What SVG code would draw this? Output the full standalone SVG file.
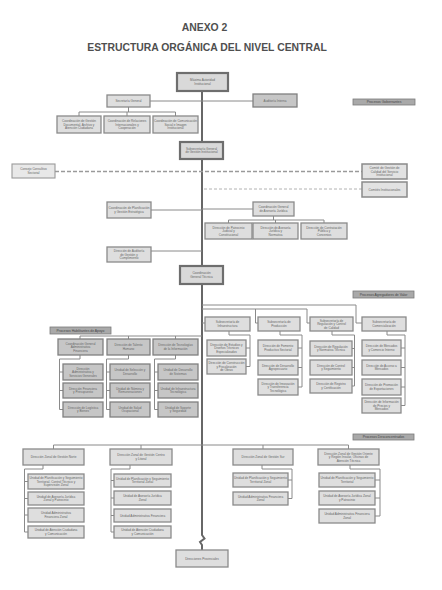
<svg xmlns="http://www.w3.org/2000/svg" width="442" height="590" viewBox="0 0 442 590">
<style>
.bg{fill:#ffffff}
.title{font-family:"Liberation Sans",Arial,sans-serif;font-weight:bold;font-size:10.4px;fill:#4f4f4f;text-anchor:middle}
.b{fill:#dedede;stroke:#8a8a8a;stroke-width:1.3}
.d{fill:#c6c6c6;stroke:#808080;stroke-width:1.3}
.m{fill:#d9d9d9;stroke:#6e6e6e;stroke-width:2.2}
.dl{fill:#e8e8e8;stroke:#9a9a9a;stroke-width:1.1}
.dr{fill:#e2e2e2;stroke:#8a8a8a;stroke-width:1.5}
.lb{fill:#a9a9a9;stroke:#7a7a7a;stroke-width:0.8}
.t{font-family:"Liberation Sans",Arial,sans-serif;font-size:3.1px;fill:#666;text-anchor:middle}
.lt{font-family:"Liberation Sans",Arial,sans-serif;font-size:3.4px;fill:#444;text-anchor:middle}
.c{fill:none;stroke:#8a8a8a;stroke-width:1}
.tr{fill:none;stroke:#676767;stroke-width:2}
.ds1{fill:none;stroke:#9a9a9a;stroke-width:1.6;stroke-dasharray:4 2}
.ds2{fill:none;stroke:#a0a0a0;stroke-width:0.8;stroke-dasharray:3 2}
</style>
<rect class="bg" x="0" y="0" width="442" height="590"/>
<text class="title" x="204.5" y="31">ANEXO 2</text>
<text class="title" x="207" y="51">ESTRUCTURA ORGÁNICA DEL NIVEL CENTRAL</text>

<g id="connectors">
<path class="tr" d="M202,91 V535 L204.5,538.5 L200,542 L202,545 V550"/>
<path class="c" d="M150,101 H253"/>
<path class="c" d="M128.5,107 V112 M79,116 V112 H175.5 V116 M127,112 V116"/>
<path class="ds1" d="M55,171.5 H362"/>
<path class="ds2" d="M204,189 H362"/>
<path class="c" d="M151,210 H202 M202,209 H253"/>
<path class="c" d="M273.5,216 V220 M228.5,223 V220 H324 V223 M275.5,220 V223"/>
<path class="c" d="M151,251 H202"/>
<path class="c" d="M202,305 H356 V323 H362 M202,309 H307 V323 H310 M255.5,309 V323 H258 M202,323 H205"/>
<path class="c" d="M229,331 V335 H250 V366.5 M246,348 H250 M246,366.5 H250"/>
<path class="c" d="M280,331 V335 H302 V387 M298,348 H302 M298,367.5 H302 M298,387 H302"/>
<path class="c" d="M332,331 V335 H354.5 V386 M352,348.5 H354.5 M352,367.5 H354.5 M352,386 H354.5"/>
<path class="c" d="M387,331 V335 H405 V405.5 M401,348 H405 M401,367.5 H405 M401,387 H405 M401,405.5 H405"/>
<path class="c" d="M80,336 H202 M80,336 V339 M128.5,336 V339 M175.5,336 V339"/>
<path class="c" d="M80,355 V359 H59.5 V409.5 M59.5,372 H63 M59.5,390.5 H63 M59.5,409.5 H63"/>
<path class="c" d="M128.5,355 V359 H106.5 V409.5 M106.5,372 H110 M106.5,390.5 H110 M106.5,409.5 H110"/>
<path class="c" d="M175.5,355 V359 H154.5 V409.5 M154.5,372 H158 M154.5,390.5 H158 M154.5,409.5 H158"/>
<path class="c" d="M53.5,445 H348.5 M53.5,445 V449 M141,445 V449 M263,445 V449 M348.5,445 V449"/>
<path class="c" d="M43,465 V469 H24.5 V532 M24.5,481.5 H28 M24.5,498.5 H28 M24.5,515 H28 M24.5,532 H28"/>
<path class="c" d="M130,465 V469 H111 V532 M111,480.5 H114 M111,498 H114 M111,515.5 H114 M111,532 H114"/>
<path class="c" d="M262,465 V469 H292 V498.5 M288,480 H292 M288,498.5 H292"/>
<path class="c" d="M350,465 V469 H380 V516 M375,480 H380 M375,498 H380 M375,516 H380"/>
</g>

<g id="n-top"><rect class="m" x="177" y="73" width="51" height="18"/><text class="t"><tspan x="202.5" y="81.3">Máxima Autoridad</tspan><tspan x="202.5" y="84.9">Institucional</tspan></text></g>
<g id="n-secgen"><rect class="b" x="107" y="95" width="43" height="12"/><text class="t" x="128.5" y="102.1">Secretaría General</text></g>
<g id="n-audit"><rect class="d" x="253" y="94" width="44" height="13"/><text class="t" x="275" y="101.6">Auditoría Interna</text></g>
<g id="n-g1"><rect class="b" x="57" y="116" width="44" height="17"/><text class="t"><tspan x="79" y="122">Coordinación de Gestión</tspan><tspan x="79" y="125.6">Documental, Archivo y</tspan><tspan x="79" y="129.2">Atención Ciudadana</tspan></text></g>
<g id="n-g2"><rect class="b" x="104" y="116" width="46" height="17"/><text class="t"><tspan x="127" y="122">Coordinación de Relaciones</tspan><tspan x="127" y="125.6">Internacionales y</tspan><tspan x="127" y="129.2">Cooperación</tspan></text></g>
<g id="n-g3"><rect class="b" x="153" y="116" width="45" height="17"/><text class="t"><tspan x="175.5" y="122">Coordinación de Comunicación</tspan><tspan x="175.5" y="125.6">Social e Imagen</tspan><tspan x="175.5" y="129.2">Institucional</tspan></text></g>
<g id="lab-gob"><rect class="lb" x="353" y="99" width="62" height="6"/><text class="lt" x="384" y="103.2">Procesos Gobernantes</text></g>

<g id="n-sub"><rect class="m" x="180" y="142" width="43" height="17"/><text class="t"><tspan x="201.5" y="149.8">Subsecretaría General</tspan><tspan x="201.5" y="153.4">de Gestión Institucional</tspan></text></g>
<g id="n-consejo"><rect class="dl" x="12" y="164" width="43" height="14"/><text class="t"><tspan x="33.5" y="170.3">Consejo Consultivo</tspan><tspan x="33.5" y="173.9">Sectorial</tspan></text></g>
<g id="n-comite"><rect class="dr" x="362" y="164" width="45" height="15"/><text class="t"><tspan x="384.5" y="169">Comité de Gestión de</tspan><tspan x="384.5" y="172.6">Calidad del Servicio</tspan><tspan x="384.5" y="176.2">Institucional</tspan></text></g>
<g id="n-comisiones"><rect class="dr" x="362" y="182" width="45" height="15"/><text class="t" x="384.5" y="190.6">Comités Institucionales</text></g>

<g id="n-plan"><rect class="b" x="107" y="202" width="44" height="16"/><text class="t"><tspan x="129" y="209.3">Coordinación de Planificación</tspan><tspan x="129" y="212.9">y Gestión Estratégica</tspan></text></g>
<g id="n-juridica"><rect class="b" x="253" y="202" width="41" height="14"/><text class="t"><tspan x="273.5" y="208.3">Coordinación General</tspan><tspan x="273.5" y="211.9">de Asesoría Jurídica</tspan></text></g>
<g id="n-j1"><rect class="b" x="205" y="223" width="47" height="16"/><text class="t"><tspan x="228.5" y="228.5">Dirección de Patrocinio</tspan><tspan x="228.5" y="232.1">Judicial y</tspan><tspan x="228.5" y="235.7">Constitucional</tspan></text></g>
<g id="n-j2"><rect class="b" x="253" y="223" width="45" height="16"/><text class="t"><tspan x="275.5" y="228.5">Dirección de Asesoría</tspan><tspan x="275.5" y="232.1">Jurídica y</tspan><tspan x="275.5" y="235.7">Normativa</tspan></text></g>
<g id="n-j3"><rect class="b" x="301" y="223" width="46" height="16"/><text class="t"><tspan x="324" y="228.5">Dirección de Contratación</tspan><tspan x="324" y="232.1">Pública y</tspan><tspan x="324" y="235.7">Convenios</tspan></text></g>
<g id="n-audgest"><rect class="b" x="107" y="247" width="44" height="15"/><text class="t"><tspan x="129" y="252">Dirección de Auditoría</tspan><tspan x="129" y="255.6">de Gestión y</tspan><tspan x="129" y="259.2">Cumplimiento</tspan></text></g>
<g id="n-tecnica"><rect class="m" x="180" y="266" width="43" height="18"/><text class="t"><tspan x="201.5" y="274.3">Coordinación</tspan><tspan x="201.5" y="277.9">General Técnica</tspan></text></g>

<g id="lab-agr"><rect class="lb" x="353" y="291" width="61" height="7"/><text class="lt" x="383.5" y="295.7">Procesos Agregadores de Valor</text></g>
<g id="n-a1"><rect class="b" x="205" y="317" width="45" height="14"/><text class="t"><tspan x="227.5" y="323.3">Subsecretaría de</tspan><tspan x="227.5" y="326.9">Infraestructura</tspan></text></g>
<g id="n-a2"><rect class="b" x="258" y="317" width="42" height="14"/><text class="t"><tspan x="279" y="323.3">Subsecretaría de</tspan><tspan x="279" y="326.9">Producción</tspan></text></g>
<g id="n-a3"><rect class="b" x="310" y="317" width="43" height="14"/><text class="t"><tspan x="331.5" y="321.5">Subsecretaría de</tspan><tspan x="331.5" y="325.1">Regulación y Control</tspan><tspan x="331.5" y="328.7">de Calidad</tspan></text></g>
<g id="n-a4"><rect class="b" x="362" y="317" width="44" height="14"/><text class="t"><tspan x="384" y="323.3">Subsecretaría de</tspan><tspan x="384" y="326.9">Comercialización</tspan></text></g>
<g id="n-a1a"><rect class="b" x="207" y="340" width="39" height="16"/><text class="t"><tspan x="226.5" y="345.5">Dirección de Estudios y</tspan><tspan x="226.5" y="349.1">Diseños Técnicos</tspan><tspan x="226.5" y="352.7">Especializados</tspan></text></g>
<g id="n-a1b"><rect class="b" x="207" y="359" width="39" height="15"/><text class="t"><tspan x="226.5" y="364">Dirección de Construcción</tspan><tspan x="226.5" y="367.6">y Fiscalización</tspan><tspan x="226.5" y="371.2">de Obras</tspan></text></g>
<g id="n-a2a"><rect class="b" x="258" y="340" width="40" height="16"/><text class="t"><tspan x="278" y="347.3">Dirección de Fomento</tspan><tspan x="278" y="350.9">Productivo Sectorial</tspan></text></g>
<g id="n-a2b"><rect class="b" x="258" y="360" width="40" height="15"/><text class="t"><tspan x="278" y="366.8">Dirección de Desarrollo</tspan><tspan x="278" y="370.4">Agropecuario</tspan></text></g>
<g id="n-a2c"><rect class="b" x="258" y="379" width="40" height="16"/><text class="t"><tspan x="278" y="384.5">Dirección de Innovación</tspan><tspan x="278" y="388.1">y Transferencia</tspan><tspan x="278" y="391.7">Tecnológica</tspan></text></g>
<g id="n-a3a"><rect class="b" x="310" y="341" width="42" height="15"/><text class="t"><tspan x="331" y="347.8">Dirección de Regulación</tspan><tspan x="331" y="351.4">y Normativa Técnica</tspan></text></g>
<g id="n-a3b"><rect class="b" x="310" y="360" width="42" height="15"/><text class="t"><tspan x="331" y="366.8">Dirección de Control</tspan><tspan x="331" y="370.4">y Seguimiento</tspan></text></g>
<g id="n-a3c"><rect class="b" x="310" y="379" width="42" height="14"/><text class="t"><tspan x="331" y="385.3">Dirección de Registro</tspan><tspan x="331" y="388.9">y Certificación</tspan></text></g>
<g id="n-a4a"><rect class="b" x="362" y="340" width="39" height="16"/><text class="t"><tspan x="381.5" y="347.3">Dirección de Mercados</tspan><tspan x="381.5" y="350.9">y Comercio Interno</tspan></text></g>
<g id="n-a4b"><rect class="b" x="362" y="360" width="39" height="15"/><text class="t"><tspan x="381.5" y="366.8">Dirección de Acceso a</tspan><tspan x="381.5" y="370.4">Mercados</tspan></text></g>
<g id="n-a4c"><rect class="b" x="362" y="379" width="39" height="16"/><text class="t"><tspan x="381.5" y="386.3">Dirección de Promoción</tspan><tspan x="381.5" y="389.9">de Exportaciones</tspan></text></g>
<g id="n-a4d"><rect class="b" x="362" y="398" width="39" height="15"/><text class="t"><tspan x="381.5" y="403">Dirección de Información</tspan><tspan x="381.5" y="406.6">de Precios y</tspan><tspan x="381.5" y="410.2">Mercados</tspan></text></g>

<g id="lab-apo"><rect class="lb" x="50" y="327" width="61" height="7"/><text class="lt" x="80.5" y="331.7">Procesos Habilitantes de Apoyo</text></g>
<g id="n-h1"><rect class="d" x="58" y="339" width="45" height="16"/><text class="t"><tspan x="80.5" y="344.5">Coordinación General</tspan><tspan x="80.5" y="348.1">Administrativa</tspan><tspan x="80.5" y="351.7">Financiera</tspan></text></g>
<g id="n-h2"><rect class="d" x="107" y="339" width="43" height="16"/><text class="t"><tspan x="128.5" y="346.3">Dirección de Talento</tspan><tspan x="128.5" y="349.9">Humano</tspan></text></g>
<g id="n-h3"><rect class="d" x="153" y="339" width="45" height="16"/><text class="t"><tspan x="175.5" y="346.3">Dirección de Tecnologías</tspan><tspan x="175.5" y="349.9">de la Información</tspan></text></g>
<g id="n-h1a"><rect class="d" x="63" y="364" width="40" height="16"/><text class="t"><tspan x="83" y="369.5">Dirección</tspan><tspan x="83" y="373.1">Administrativa y</tspan><tspan x="83" y="376.7">Servicios Generales</tspan></text></g>
<g id="n-h1b"><rect class="d" x="63" y="383" width="40" height="15"/><text class="t"><tspan x="83" y="389.8">Dirección Financiera</tspan><tspan x="83" y="393.4">y Presupuesto</tspan></text></g>
<g id="n-h1c"><rect class="d" x="63" y="402" width="40" height="15"/><text class="t"><tspan x="83" y="408.8">Dirección de Logística</tspan><tspan x="83" y="412.4">y Bienes</tspan></text></g>
<g id="n-h2a"><rect class="d" x="110" y="364" width="40" height="16"/><text class="t"><tspan x="130" y="371.3">Unidad de Selección y</tspan><tspan x="130" y="374.9">Desarrollo</tspan></text></g>
<g id="n-h2b"><rect class="d" x="110" y="383" width="40" height="15"/><text class="t"><tspan x="130" y="389.8">Unidad de Nómina y</tspan><tspan x="130" y="393.4">Remuneraciones</tspan></text></g>
<g id="n-h2c"><rect class="d" x="110" y="402" width="40" height="15"/><text class="t"><tspan x="130" y="408.8">Unidad de Salud</tspan><tspan x="130" y="412.4">Ocupacional</tspan></text></g>
<g id="n-h3a"><rect class="d" x="158" y="364" width="40" height="16"/><text class="t"><tspan x="178" y="371.3">Unidad de Desarrollo</tspan><tspan x="178" y="374.9">de Sistemas</tspan></text></g>
<g id="n-h3b"><rect class="d" x="158" y="383" width="40" height="15"/><text class="t"><tspan x="178" y="389.8">Unidad de Infraestructura</tspan><tspan x="178" y="393.4">Tecnológica</tspan></text></g>
<g id="n-h3c"><rect class="d" x="158" y="402" width="40" height="15"/><text class="t"><tspan x="178" y="408.8">Unidad de Soporte</tspan><tspan x="178" y="412.4">y Seguridad</tspan></text></g>

<g id="lab-desc"><rect class="lb" x="353" y="434" width="61" height="6"/><text class="lt" x="383.5" y="438.2">Procesos Desconcentrados</text></g>
<g id="n-d1"><rect class="b" x="23" y="449" width="61" height="16"/><text class="t" x="53.5" y="458.1">Dirección Zonal de Gestión Norte</text></g>
<g id="n-d2"><rect class="b" x="110" y="449" width="62" height="16"/><text class="t"><tspan x="141" y="456.3">Dirección Zonal de Gestión Centro</tspan><tspan x="141" y="459.9">y Litoral</tspan></text></g>
<g id="n-d3"><rect class="b" x="233" y="449" width="60" height="16"/><text class="t" x="263" y="458.1">Dirección Zonal de Gestión Sur</text></g>
<g id="n-d4"><rect class="b" x="318" y="449" width="61" height="16"/><text class="t"><tspan x="348.5" y="454.5">Dirección Zonal de Gestión Oriente</tspan><tspan x="348.5" y="458.1">y Región Insular, Oficinas de</tspan><tspan x="348.5" y="461.7">Atención Técnica</tspan></text></g>
<g id="n-d1a"><rect class="b" x="28" y="474" width="56" height="15"/><text class="t"><tspan x="56" y="479">Unidad de Planificación y Seguimiento</tspan><tspan x="56" y="482.6">Territorial, Control Técnico y</tspan><tspan x="56" y="486.2">Supervisión Zonal</tspan></text></g>
<g id="n-d1b"><rect class="b" x="28" y="492" width="56" height="13"/><text class="t"><tspan x="56" y="497.8">Unidad de Asesoría Jurídica</tspan><tspan x="56" y="501.4">Zonal y Patrocinio</tspan></text></g>
<g id="n-d1c"><rect class="b" x="28" y="508" width="56" height="14"/><text class="t"><tspan x="56" y="514.3">Unidad Administrativa</tspan><tspan x="56" y="517.9">Financiera Zonal</tspan></text></g>
<g id="n-d1d"><rect class="b" x="28" y="526" width="56" height="12"/><text class="t"><tspan x="56" y="531.3">Unidad de Atención Ciudadana</tspan><tspan x="56" y="534.9">y Comunicación</tspan></text></g>
<g id="n-d2a"><rect class="b" x="114" y="474" width="57" height="13"/><text class="t"><tspan x="142.5" y="479.8">Unidad de Planificación y Seguimiento</tspan><tspan x="142.5" y="483.4">Territorial Zonal</tspan></text></g>
<g id="n-d2b"><rect class="b" x="114" y="491" width="57" height="14"/><text class="t"><tspan x="142.5" y="497.3">Unidad de Asesoría Jurídica</tspan><tspan x="142.5" y="500.9">Zonal</tspan></text></g>
<g id="n-d2c"><rect class="b" x="114" y="509" width="57" height="13"/><text class="t" x="142.5" y="516.6">Unidad Administrativa Financiera</text></g>
<g id="n-d2d"><rect class="b" x="114" y="526" width="57" height="12"/><text class="t"><tspan x="142.5" y="531.3">Unidad de Atención Ciudadana</tspan><tspan x="142.5" y="534.9">y Comunicación</tspan></text></g>
<g id="n-d3a"><rect class="b" x="233" y="473" width="55" height="14"/><text class="t"><tspan x="260.5" y="479.3">Unidad de Planificación y Seguimiento</tspan><tspan x="260.5" y="482.9">Territorial Zonal</tspan></text></g>
<g id="n-d3b"><rect class="b" x="233" y="492" width="55" height="13"/><text class="t"><tspan x="260.5" y="497.8">Unidad Administrativa Financiera</tspan><tspan x="260.5" y="501.4">Zonal</tspan></text></g>
<g id="n-d4a"><rect class="b" x="319" y="473" width="56" height="14"/><text class="t"><tspan x="347" y="479.3">Unidad de Planificación y Seguimiento</tspan><tspan x="347" y="482.9">Territorial</tspan></text></g>
<g id="n-d4b"><rect class="b" x="319" y="491" width="56" height="14"/><text class="t"><tspan x="347" y="497.3">Unidad de Asesoría Jurídica Zonal</tspan><tspan x="347" y="500.9">y Patrocinio</tspan></text></g>
<g id="n-d4c"><rect class="b" x="319" y="509" width="56" height="14"/><text class="t"><tspan x="347" y="515.3">Unidad Administrativa Financiera</tspan><tspan x="347" y="518.9">Zonal</tspan></text></g>
<g id="n-prov"><rect class="b" x="176" y="550" width="52" height="17"/><text class="t" x="202" y="559.6">Direcciones Provinciales</text></g>
</svg>
